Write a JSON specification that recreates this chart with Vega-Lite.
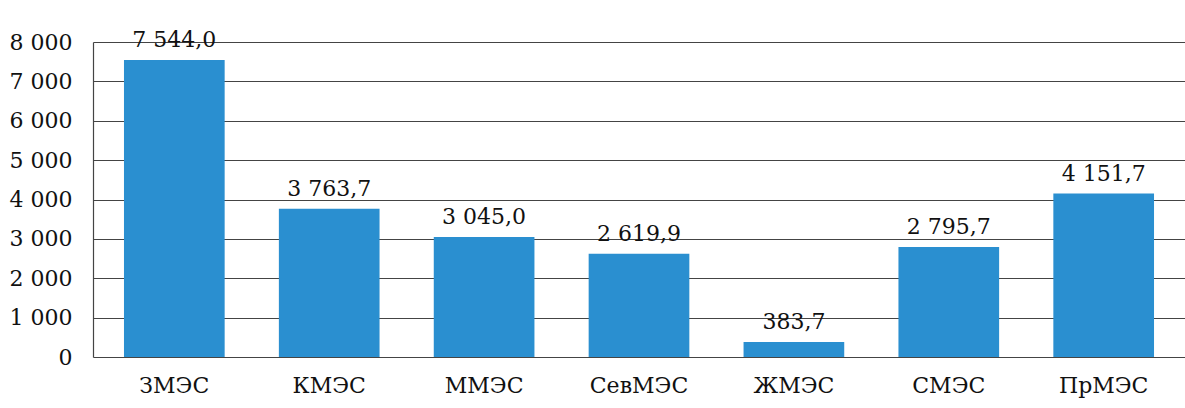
{
  "$schema": "https://vega.github.io/schema/vega-lite/v6.json",
  "autosize": {"type": "none"},
  "padding": {"left": 93, "top": 42, "right": 0, "bottom": 51},
  "width": 1092,
  "height": 315,
  "background": "white",
  "config": {
    "locale": {"number": {"decimal": ",", "thousands": " ", "grouping": [3], "currency": ["", ""]}},
    "view": {"stroke": null},
    "font": "DejaVu Serif"
  },
  "data": {
    "values": [
      {"name": "ЗМЭС", "value": 7544.0},
      {"name": "КМЭС", "value": 3763.7},
      {"name": "ММЭС", "value": 3045.0},
      {"name": "СевМЭС", "value": 2619.9},
      {"name": "ЖМЭС", "value": 383.7},
      {"name": "СМЭС", "value": 2795.7},
      {"name": "ПрМЭС", "value": 4151.7}
    ]
  },
  "encoding": {
    "x": {
      "field": "name", "type": "nominal", "sort": null,
      "scale": {"paddingInner": 0.35, "paddingOuter": 0.2},
      "axis": {
        "title": null, "labelAngle": 0, "labelFont": "DejaVu Serif", "labelFontSize": 22,
        "labelColor": "#111", "ticks": false, "labelPadding": 18, "domain": false
      }
    },
    "y": {
      "field": "value", "type": "quantitative",
      "scale": {"domain": [0, 8000]},
      "axis": {
        "title": null, "values": [0,1000,2000,3000,4000,5000,6000,7000,8000], "format": ",d",
        "labelFont": "DejaVu Serif", "labelFontSize": 22, "labelColor": "#111",
        "ticks": false, "labelPadding": 21, "domainColor": "#444", "domainWidth": 1.2,
        "gridColor": "#444", "gridWidth": 1.2
      }
    }
  },
  "layer": [
    {"mark": {"type": "bar", "color": "#2a8fd0"}},
    {
      "mark": {"type": "text", "baseline": "bottom", "dy": -8, "font": "DejaVu Serif", "fontSize": 22, "color": "#111"},
      "encoding": {"text": {"field": "value", "type": "quantitative", "format": ",.1f"}}
    }
  ]
}
